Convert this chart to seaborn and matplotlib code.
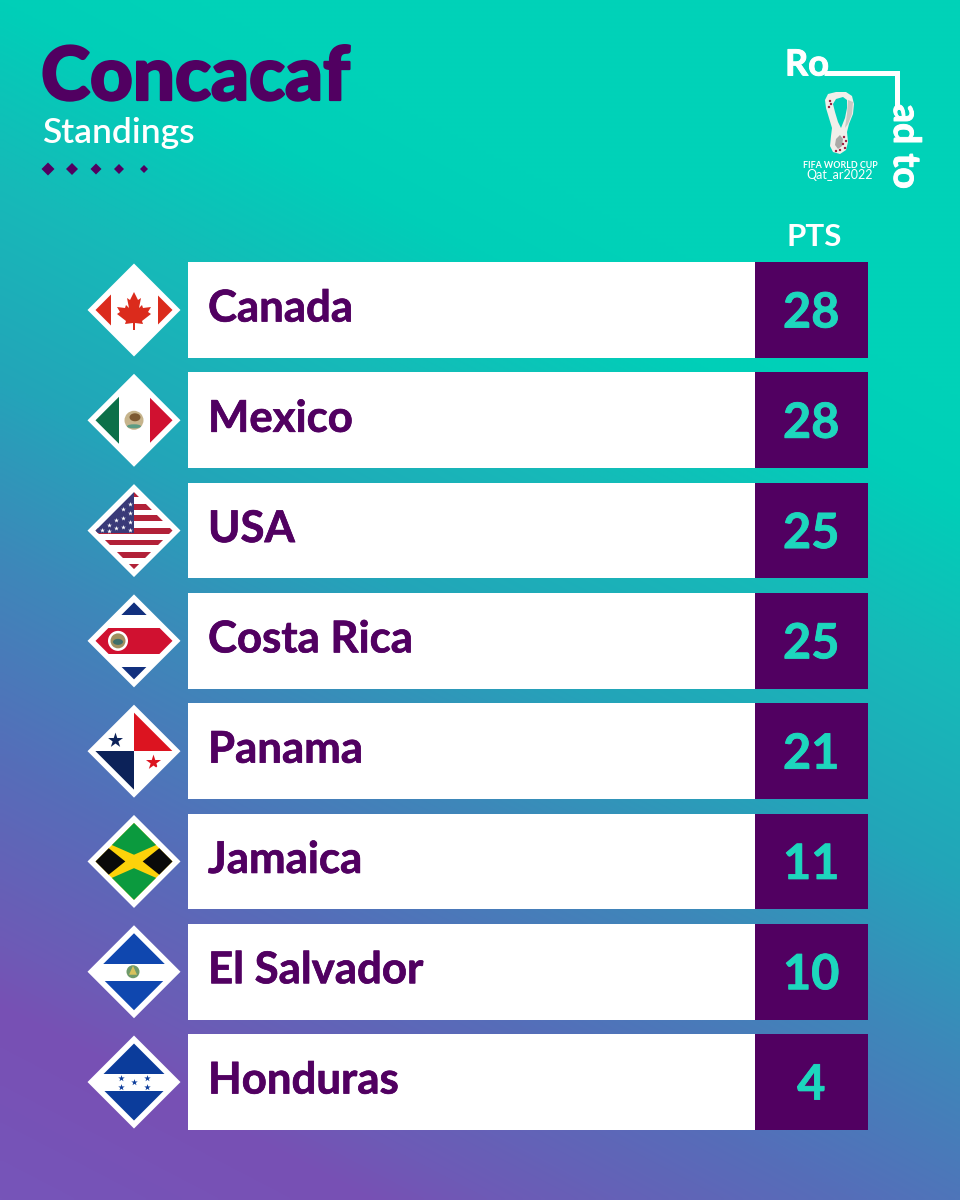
import matplotlib
matplotlib.use("Agg")
import matplotlib.pyplot as plt
import numpy as np
import pandas as pd
import seaborn as sns
from matplotlib.patches import Circle, Ellipse, Polygon
import matplotlib.patheffects as pe

# chart values
teams = ["Canada", "Mexico", "USA", "Costa Rica", "Panama", "Jamaica", "El Salvador", "Honduras"]
points = [28, 28, 25, 25, 21, 11, 10, 4]
row_span = [1, 1, 1, 1, 1, 1, 1, 1]

title = "Concacaf"
subtitle = "Standings"
pts_label = "PTS"

PURPLE = "#510061"
TEAL = "#1dd6bd"
FONT = "Lato"

sns.set_theme(style="white")
plt.rcParams["font.family"] = [FONT, "DejaVu Sans"]

df = pd.DataFrame({"team": teams, "points": points, "span": row_span})

W, H = 960, 1200
fig = plt.figure(figsize=(9.6, 12), dpi=100)

# background gradient, tilted so the right side stays lighter
bg = fig.add_axes([0, 0, 1, 1], zorder=0)
xx, yy = np.meshgrid(np.linspace(0, W, 240), np.linspace(0, H, 300))
v = yy - 0.52 * xx
stops = [-100, 0, 180, 380, 565, 756, 947, 1012, 1200]
rgb = [(0, 210, 184), (0, 207, 184), (22, 186, 184), (35, 165, 185), (62, 135, 185), (85, 110, 185),
       (110, 90, 182), (120, 80, 180), (118, 85, 185)]
img = np.dstack([np.interp(v, stops, [c[i] for c in rgb]) for i in range(3)]) / 255
bg.imshow(img, extent=[0, W, H, 0], aspect="auto", interpolation="bilinear")
bg.axis("off")

# rows are drawn on categorical axes, pitch 110.3px between rows
pitch = 110.29
top = 310 - pitch / 2
height = pitch * 8
bottom_frac = 1 - (top + height) / H

ax_rows = fig.add_axes([188 / W, bottom_frac, (755 - 188) / W, height / H], zorder=2)
sns.barplot(data=df, y="team", x="span", color="white", saturation=1, width=0.868, linewidth=0, ax=ax_rows)
ax_rows.set_xlim(0, 1)
ax_rows.axis("off")

ax_pts = fig.add_axes([755 / W, bottom_frac, (867.5 - 755) / W, height / H], zorder=2)
sns.barplot(data=df, y="team", x="span", color=PURPLE, saturation=1, width=0.868, linewidth=0, ax=ax_pts)
ax_pts.set_xlim(0, 1)
ax_pts.axis("off")

for i, (name, value) in enumerate(zip(teams, points)):
    ax_rows.annotate(name, (20 / 567, i), xytext=(0, -11.5 * 0.72), textcoords="offset points",
                     color=PURPLE, fontsize=31.5, fontweight="bold", va="baseline", ha="left",
                     path_effects=[pe.withStroke(linewidth=0.5, foreground=PURPLE)])
    ax_pts.annotate(str(value), (0.5, i), xytext=(0, -17.5 * 0.72), textcoords="offset points",
                    color=TEAL, fontsize=35, fontweight="bold", va="baseline", ha="center",
                    path_effects=[pe.withStroke(linewidth=0.6, foreground=TEAL)])

# overlay in pixel coordinates for header, logo and flags
ov = fig.add_axes([0, 0, 1, 1], zorder=3)
ov.set_xlim(0, W)
ov.set_ylim(H, 0)
ov.axis("off")
ov.patch.set_alpha(0)

ov.text(41, 100, title, color=PURPLE, fontsize=53.5, fontweight="black", va="baseline",
        path_effects=[pe.withStroke(linewidth=1.6, foreground=PURPLE)])
ov.text(42, 143, subtitle, color="white", fontsize=25.5, fontweight="semibold", va="baseline")

for x, s in zip([48, 72, 96, 119, 144], [6.5, 6, 5.5, 5, 4]):
    ov.add_patch(Polygon([(x - s, 169), (x, 169 - s), (x + s, 169), (x, 169 + s)], color=PURPLE, lw=0))

ov.text(814, 246, pts_label, color="white", fontsize=22.5, fontweight="bold", ha="center", va="baseline")

# road to logo
ov.text(785, 75.5, "Ro", color="white", fontsize=26, fontweight="bold", va="baseline",
        path_effects=[pe.withStroke(linewidth=0.7, foreground="white")])
ov.plot([824, 896.5, 896.5], [72.5, 72.5, 108], color="white", lw=3.6, solid_joinstyle="miter", solid_capstyle="butt")
ov.text(894, 104, "ad to", color="white", fontsize=27, fontweight="bold", rotation=-90,
        va="baseline", ha="left", rotation_mode="anchor",
        path_effects=[pe.withStroke(linewidth=0.7, foreground="white")])

# trophy
outer = [(836, 92), (846, 92), (852, 96), (854, 104), (853, 114), (849, 124), (847, 132), (848, 142), (846, 150),
         (840, 154), (833, 152), (830, 146), (831, 136), (832, 128), (829, 118), (826, 108), (825, 100), (828, 94)]
ov.add_patch(Polygon(outer, facecolor="#f0efea", edgecolor="none"))
ov.add_patch(Polygon([(848, 100), (853, 102), (852, 114), (848, 124), (845, 128), (847, 114)], color="#c9c9c4", lw=0))
ov.add_patch(Polygon([(836, 99), (843, 97), (847, 100), (847, 108), (845, 118), (841, 128), (838, 122), (835, 112),
                      (833, 104)], color="#00cfb9", lw=0))
ov.add_patch(Polygon([(840, 135), (843, 139), (842, 146), (838, 149), (835, 145), (836, 139)], color="#a9aaa7", lw=0))
for x, y in [(830, 101), (831, 104), (829, 107), (844, 137), (846, 141), (843, 144), (840, 150), (845, 148), (836, 151)]:
    ov.add_patch(Circle((x, y), 1.2, color="#9b1b3c", lw=0))
ov.text(840, 168, "FIFA WORLD CUP", color="white", fontsize=6.4, fontweight="bold", ha="center", va="baseline")
ov.text(840, 179, "Qat_ar2022", color="white", fontsize=9, ha="center", va="baseline")


def shape(cx, cy, pts, color, clip):
    p = Polygon([(cx + a, cy + b) for a, b in pts], color=color, lw=0)
    ov.add_patch(p)
    p.set_clip_path(clip)


def stars(cx, cy, pts, color, size, clip):
    for a, b in pts:
        m = ov.scatter([cx + a], [cy + b], marker="*", s=size, color=color, lw=0)
        m.set_clip_path(clip)


def band(cx, cy, y0, y1, color, clip, x0=-40, x1=40):
    shape(cx, cy, [(x0, y0), (x1, y0), (x1, y1), (x0, y1)], color, clip)


def flag_canada(cx, cy, clip):
    band(cx, cy, -40, 40, "#db2b1c", clip, -40, -23)
    band(cx, cy, -40, 40, "#db2b1c", clip, 24, 40)
    leaf = [(0, -18), (-4, -10), (-7, -12), (-5, -2), (-8, -5), (-9, -2), (-17, -3), (-14, 2), (-17, 4),
            (-8, 11), (-9, 14), (-1, 13), (-1, 20), (1, 20), (1, 13), (9, 14), (8, 11), (17, 4), (14, 2),
            (17, -3), (9, -2), (8, -5), (5, -2), (7, -12), (4, -10)]
    shape(cx, cy, leaf, "#db2b1c", clip)


def flag_mexico(cx, cy, clip):
    band(cx, cy, -40, 40, "#0c7049", clip, -40, -15.5)
    band(cx, cy, -40, 40, "#d01130", clip, 15.5, 40)
    ov.add_patch(Circle((cx, cy), 9.5, color="#c6b48c", lw=0))
    ov.add_patch(Ellipse((cx + 1, cy - 3), 11, 8, color="#7d5a32", lw=0))
    ov.add_patch(Ellipse((cx, cy + 6), 14, 4, color="#5b9c84", lw=0))


def flag_usa(cx, cy, clip):
    for y0, y1 in [(-40, -34), (-27, -21), (-16, -10)]:
        band(cx, cy, y0, y1, "#b22138", clip, 0, 40)
    for y0, y1 in [(-3, 3), (9, 14.5), (21, 27), (33, 40)]:
        band(cx, cy, y0, y1, "#b22138", clip)
    band(cx, cy, -40, 2, "#3a3a78", clip, -40, 0)
    star_pos = [(-4, -27), (-4, -18), (-11, -22), (-4, -9), (-11, -13), (-18, -11), (-4, -1), (-11, -4),
                (-18, -3), (-25, -6), (-32, -1), (-25, 0)]
    stars(cx, cy, star_pos, "white", 13, clip)


def flag_costa_rica(cx, cy, clip):
    band(cx, cy, -40, -26, "#12307e", clip)
    band(cx, cy, 26, 40, "#12307e", clip)
    band(cx, cy, -13, 13, "#d01130", clip)
    ov.add_patch(Circle((cx - 16, cy), 10, color="white", lw=0))
    ov.add_patch(Circle((cx - 16, cy), 7.5, color="#a08f5f", lw=0))
    ov.add_patch(Ellipse((cx - 16, cy + 1), 10, 6, color="#3f6f6a", lw=0))


def flag_panama(cx, cy, clip):
    shape(cx, cy, [(0, -40), (40, -40), (40, 0), (0, 0)], "#dc1420", clip)
    shape(cx, cy, [(-40, 0), (0, 0), (0, 40), (-40, 40)], "#0c2259", clip)
    stars(cx, cy, [(-19, -11)], "#0c2259", 130, clip)
    stars(cx, cy, [(19, 11)], "#dc1420", 130, clip)


def flag_jamaica(cx, cy, clip):
    band(cx, cy, -40, 40, "#fdd20a", clip)
    shape(cx, cy, [(0, -6.7), (-40, -24.3), (-40, -40), (40, -40), (40, -24.3)], "#0b9a3e", clip)
    shape(cx, cy, [(0, 6.7), (-40, 24.3), (-40, 40), (40, 40), (40, 24.3)], "#0b9a3e", clip)
    shape(cx, cy, [(-8.7, 0), (-40, -25), (-40, 25)], "#0a0a0a", clip)
    shape(cx, cy, [(8.7, 0), (40, -25), (40, 25)], "#0a0a0a", clip)


def flag_el_salvador(cx, cy, clip):
    band(cx, cy, -40, -8, "#0f47af", clip)
    band(cx, cy, 9, 40, "#0f47af", clip)
    ov.add_patch(Circle((cx - 1, cy), 6.5, color="#6f9a6a", lw=0))
    ov.add_patch(Polygon([(cx - 5, cy + 3), (cx - 1, cy - 6), (cx + 3, cy + 3)], color="#d8c25c", lw=0))


def flag_honduras(cx, cy, clip):
    band(cx, cy, -40, -8, "#0b3c9b", clip)
    band(cx, cy, 9, 40, "#0b3c9b", clip)
    stars(cx, cy, [(-13, -4.5), (13, -4.5), (0, 0), (-13, 5), (13, 5)], "#0b3c9b", 24, clip)


flag_funcs = [flag_canada, flag_mexico, flag_usa, flag_costa_rica, flag_panama, flag_jamaica,
              flag_el_salvador, flag_honduras]

for i, draw in enumerate(flag_funcs):
    cx, cy = 134, 310 + pitch * i
    r = 46.5
    ov.add_patch(Polygon([(cx - r, cy), (cx, cy - r), (cx + r, cy), (cx, cy + r)], color="white", lw=0))
    ri = 38.5
    clip = Polygon([(cx - ri, cy), (cx, cy - ri), (cx + ri, cy), (cx, cy + ri)], transform=ov.transData)
    draw(cx, cy, clip)

ov.set_xlim(0, W)
ov.set_ylim(H, 0)

fig.savefig("out.png", dpi=100)
